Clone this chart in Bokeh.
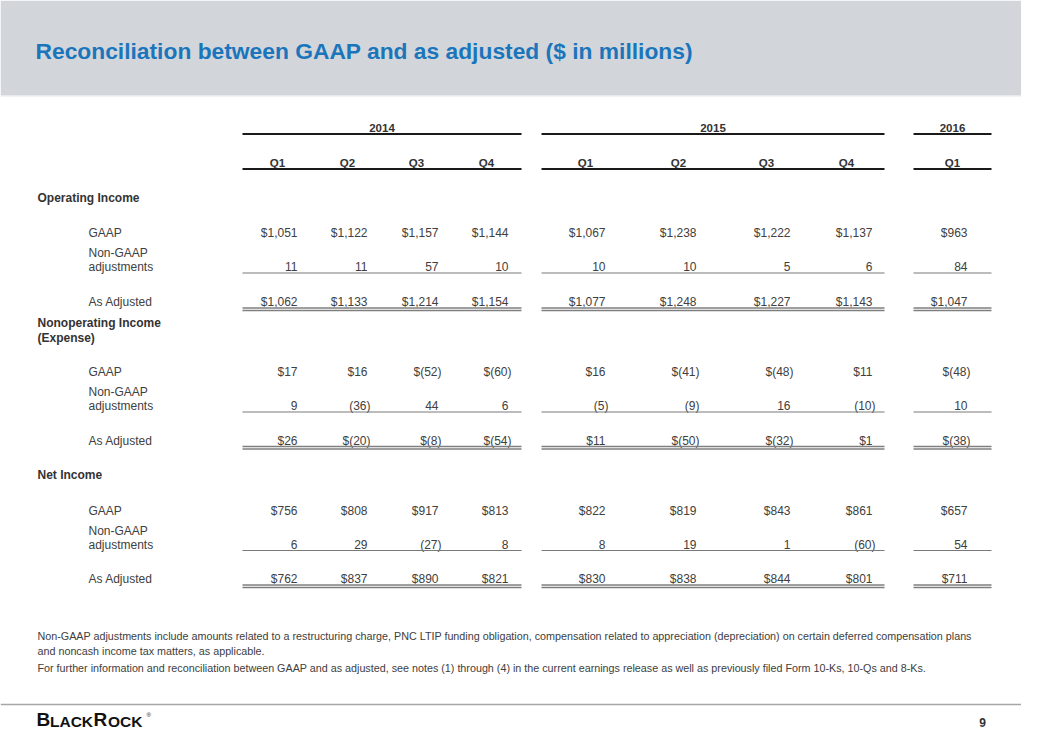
from bokeh.plotting import figure
from bokeh.models import Range1d
from bokeh.core.properties import value
from bokeh.embed import file_html
from bokeh.resources import INLINE

# ---------------- data ----------------
title = "Reconciliation between GAAP and as adjusted ($ in millions)"
years = ["2014", "2015", "2016"]
quarters = ["Q1", "Q2", "Q3", "Q4", "Q1", "Q2", "Q3", "Q4", "Q1"]

sections = [["Operating Income"], ["Nonoperating Income", "(Expense)"], ["Net Income"]]
row_gaap = "GAAP"
row_adj = ["Non-GAAP", "adjustments"]
row_asadj = "As Adjusted"

op_gaap = [1051, 1122, 1157, 1144, 1067, 1238, 1222, 1137, 963]
op_adj = [11, 11, 57, 10, 10, 10, 5, 6, 84]
op_asadj = [1062, 1133, 1214, 1154, 1077, 1248, 1227, 1143, 1047]

nonop_gaap = [17, 16, -52, -60, 16, -41, -48, 11, -48]
nonop_adj = [9, -36, 44, 6, -5, -9, 16, -10, 10]
nonop_asadj = [26, -20, -8, -54, 11, -50, -32, 1, -38]

net_gaap = [756, 808, 917, 813, 822, 819, 843, 861, 657]
net_adj = [6, 29, -27, 8, 8, 19, 1, -60, 54]
net_asadj = [762, 837, 890, 821, 830, 838, 844, 801, 711]

footnotes = [
    "Non-GAAP adjustments include amounts related to a restructuring charge, PNC LTIP funding obligation, compensation related to appreciation (depreciation) on certain deferred compensation plans",
    "and noncash income tax matters, as applicable.",
    "For further information and reconciliation between GAAP and as adjusted, see notes (1) through (4) in the current earnings release as well as previously filed Form 10-Ks, 10-Qs and 8-Ks.",
]
page_number = "9"

# ---------------- layout (pixel space of the slide) ----------------
col_right = [297, 367, 438, 508, 605, 696, 790, 872, 967]
q_center = [277, 347, 416, 486, 585, 678, 766, 846, 952]
group_span = [(242, 521), (541, 884), (913, 991)]
year_y, year_line_y = 127, 133.5
q_y, q_line_y = 162, 168.5
sec_layout = [
    dict(head=[197], gaap=232, adj=[252, 266], line=272.5, asadj=301, dbl=307.5),
    dict(head=[322, 337], gaap=371, adj=[391, 405], line=411.5, asadj=440, dbl=446),
    dict(head=[474], gaap=510, adj=[530, 544], line=550, asadj=578, dbl=584.5),
]
FONT = value("Liberation Sans")
DARK = "#333333"
BODY = "#404040"

p = figure(width=1021, height=734, output_backend="svg", toolbar_location=None,
           x_range=Range1d(0, 1021), y_range=Range1d(734, 0), min_border=0)
p.axis.visible = False
p.grid.visible = False
p.outline_line_color = None
p.background_fill_color = "white"
p.border_fill_color = "white"

# header band
p.quad(left=[0], right=[1037], top=[0], bottom=[95], fill_color="#d2d6db", line_color=None)
p.segment(x0=[0], y0=[95.5], x1=[1037], y1=[95.5], line_color="#e6e8eb", line_width=1)
p.text(x=[35], y=[50], text=[title], text_font=FONT, text_font_size="22.8px",
       text_font_style="bold", text_color="#1b75bb", text_baseline="middle", text_align="left")


def txt(xs, ys, texts, size="12px", bold=False, align="left", color=BODY):
    p.text(x=xs, y=ys, text=texts, text_font=FONT, text_font_size=size,
           text_font_style="bold" if bold else "normal", text_color=color,
           text_baseline="middle", text_align=align)


txt([(a + b) / 2 for a, b in group_span], [year_y] * 3, years, size="11.5px", bold=True,
    align="center", color=DARK)
txt(q_center, [q_y] * len(quarters), quarters, size="11.5px", bold=True, align="center", color=DARK)
for yy in (year_line_y, q_line_y):
    p.segment(x0=[a for a, b in group_span], y0=[yy] * 3, x1=[b for a, b in group_span],
              y1=[yy] * 3, line_color="#1a1a1a", line_width=1.8)


def fmt(v, dollar):
    s = f"{abs(v):,}"
    if v < 0:
        s = f"({s})"
    return ("$" if dollar else "") + s


def num_row(vals, y, dollar):
    xs = [col_right[i] + (3 if v < 0 else 0) for i, v in enumerate(vals)]
    txt(xs, [y] * len(vals), [fmt(v, dollar) for v in vals], align="right")


data = [(op_gaap, op_adj, op_asadj), (nonop_gaap, nonop_adj, nonop_asadj),
        (net_gaap, net_adj, net_asadj)]
for sec, lay, (g, a, s) in zip(sections, sec_layout, data):
    txt([37] * len(sec), lay["head"], sec, bold=True, color=DARK)
    txt([88], [lay["gaap"]], [row_gaap])
    txt([88, 88], lay["adj"], row_adj)
    txt([88], [lay["asadj"]], [row_asadj])
    num_row(g, lay["gaap"], True)
    num_row(a, lay["adj"][1], False)
    num_row(s, lay["asadj"], True)
    p.segment(x0=[a0 for a0, b0 in group_span], y0=[lay["line"]] * 3,
              x1=[b0 for a0, b0 in group_span], y1=[lay["line"]] * 3,
              line_color="#7a7a7a", line_width=1.2)
    for dy in (0, 2.5):
        p.segment(x0=[a0 for a0, b0 in group_span], y0=[lay["dbl"] + dy] * 3,
                  x1=[b0 for a0, b0 in group_span], y1=[lay["dbl"] + dy] * 3,
                  line_color="#7f7f7f", line_width=1.4)

# footnotes
txt([37, 37, 37], [635, 650, 667], footnotes, size="10.75px")

# footer
p.segment(x0=[0], y0=[704], x1=[1037], y1=[704], line_color="#a6a6a6", line_width=1.5)
logo = [("B", "19px", 36, 719.4), ("LACK", "15.5px", 49.5, 720.6),
        ("R", "19px", 93, 719.4), ("OCK", "15.5px", 107.5, 720.6)]
for t, sz, xx, yy in logo:
    p.text(x=[xx], y=[yy], text=[t], text_font=FONT, text_font_size=sz, text_color="#111111",
           text_baseline="middle", text_align="left", text_font_style="bold")
p.text(x=[146], y=[714], text=["®"], text_font=FONT, text_font_size="6px", text_color="#111111",
       text_baseline="middle", text_align="left")
txt([982], [722], [page_number], size="12px", bold=True, align="center", color=DARK)

open("out.html", "w").write(file_html(p, INLINE))
